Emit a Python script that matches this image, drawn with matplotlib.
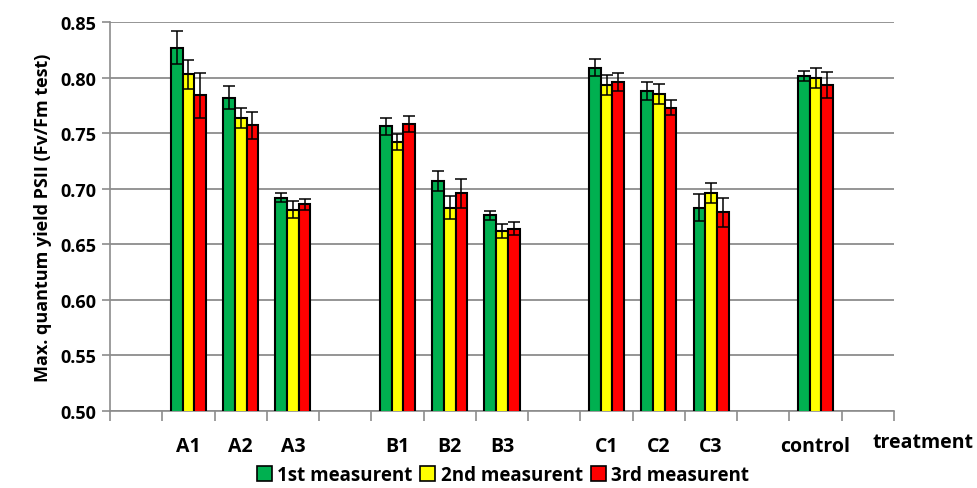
import numpy as np
import matplotlib
matplotlib.use('Agg')
import matplotlib.pyplot as plt

# categories on the x axis (blank slots are the gaps between groups)
categories = ['', 'A1', 'A2', 'A3', '', 'B1', 'B2', 'B3', '', 'C1', 'C2', 'C3', '', 'control', '']
treatments = ['A1', 'A2', 'A3', 'B1', 'B2', 'B3', 'C1', 'C2', 'C3', 'control']

first = [0.827, 0.782, 0.692, 0.756, 0.707, 0.676, 0.809, 0.788, 0.683, 0.801]
second = [0.803, 0.764, 0.681, 0.742, 0.683, 0.662, 0.793, 0.785, 0.696, 0.800]
third = [0.784, 0.757, 0.686, 0.758, 0.696, 0.664, 0.796, 0.773, 0.679, 0.793]

first_err = [0.015, 0.010, 0.004, 0.008, 0.009, 0.004, 0.008, 0.008, 0.012, 0.0045]
second_err = [0.013, 0.009, 0.0075, 0.0075, 0.0105, 0.006, 0.009, 0.009, 0.009, 0.009]
third_err = [0.020, 0.012, 0.005, 0.007, 0.013, 0.006, 0.008, 0.007, 0.013, 0.0117]

series_names = ['1st measurent', '2nd measurent', '3rd measurent']
colors = ['#00B050', '#FFFF00', '#FF0000']

plt.rcParams['font.family'] = ['Open Sans', 'DejaVu Sans']
plt.rcParams['font.weight'] = 'bold'

fig = plt.figure(figsize=(9.78, 4.89), dpi=100)
ax = fig.add_axes([110 / 978, 1 - 412 / 489, (894 - 110) / 978, (412 - 23) / 489])

# slots that hold a treatment
pos = np.array([i for i, c in enumerate(categories) if c != ''])
w = 0.224

for k, (vals, errs) in enumerate([(first, first_err), (second, second_err), (third, third_err)]):
    ax.bar(pos + (k - 1) * w, vals, width=w, color=colors[k], edgecolor='black',
           linewidth=1.5, yerr=errs, capsize=4.5, label=series_names[k],
           error_kw=dict(elinewidth=1.1, capthick=1.1, ecolor='black'), zorder=3)

ax.set_ylim(0.5, 0.85)
ax.set_xlim(-0.5, len(categories) - 0.5)
ax.set_yticks(np.arange(0.50, 0.851, 0.05))
ax.set_yticklabels(['%.2f' % v for v in np.arange(0.50, 0.851, 0.05)], fontsize=13, fontweight='bold')
ax.yaxis.grid(True, color='#8c8c8c', linewidth=1.3, zorder=0)
ax.set_axisbelow(True)

ax.set_xticks(range(len(categories)))
ax.set_xticklabels(categories, fontsize=14, fontweight='bold')
ax.tick_params(axis='x', which='major', length=0, pad=18)
ax.set_xticks(np.arange(-0.5, len(categories), 1.0), minor=True)
ax.tick_params(axis='x', which='minor', length=7, color='#8c8c8c', width=1.2)
ax.tick_params(axis='y', length=6, color='#8c8c8c', width=1.2, pad=4)

for s in ['top', 'right']:
    ax.spines[s].set_visible(False)
for s in ['left', 'bottom']:
    ax.spines[s].set_color('#8c8c8c')
    ax.spines[s].set_linewidth(1.2)

ax.set_ylabel('Max. quantum yield PSII (Fv/Fm test)', fontsize=13, fontweight='bold', labelpad=6)
fig.text(923 / 978, 1 - 443 / 489, 'treatment', ha='center', va='center', fontsize=14, fontweight='bold')

leg = fig.legend(loc='center', bbox_to_anchor=(503 / 978, 1 - 476 / 489), ncol=3, frameon=False,
                 fontsize=13.5, handlelength=0.8, handleheight=0.8, handletextpad=0.3,
                 columnspacing=0.4, borderaxespad=0)
for h in leg.legend_handles:
    h.set_linewidth(1.2)

fig.savefig('out.png', dpi=100)
